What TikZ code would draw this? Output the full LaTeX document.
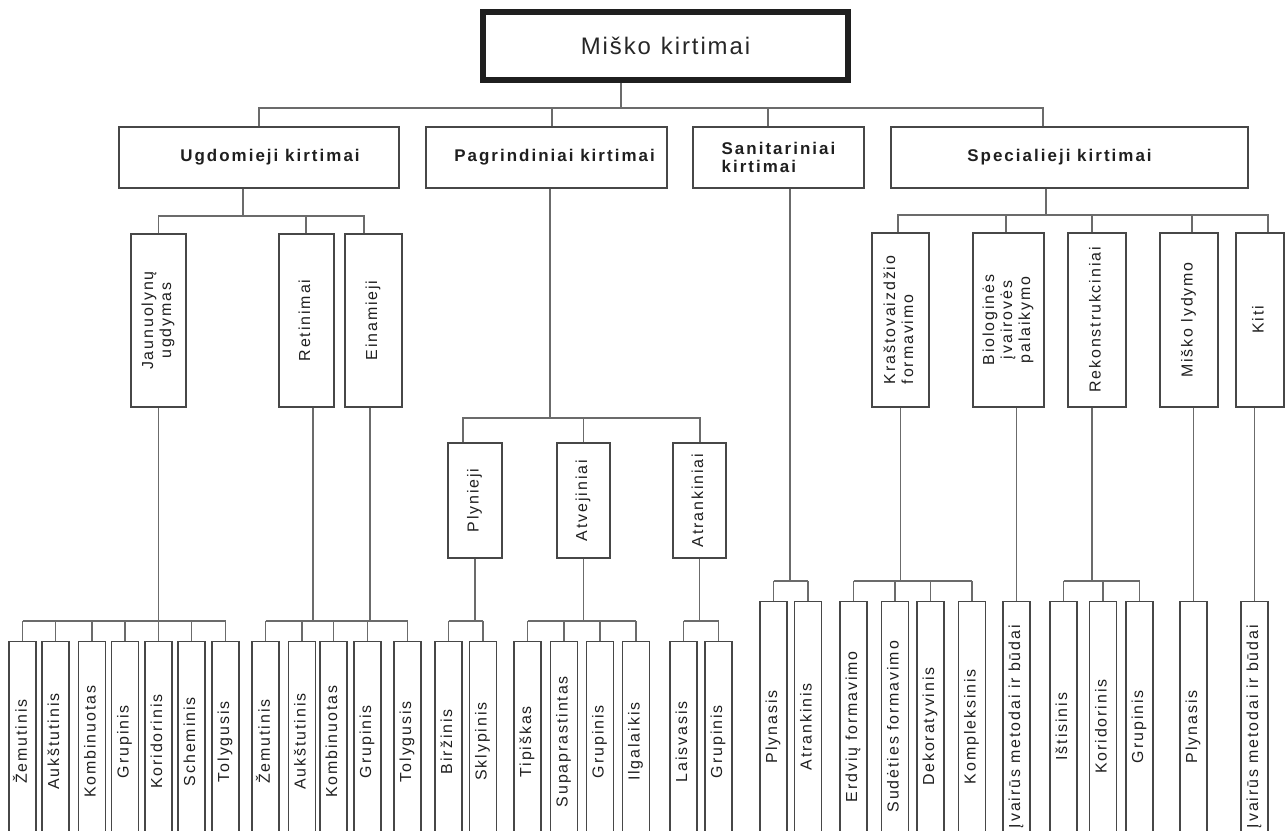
\documentclass[tikz,border=0pt]{standalone}
\usepackage{fontspec}
\usepackage{graphicx}
\setmainfont{Liberation Sans}
\newfontfamily\ttlfont{Liberation Sans}[LetterSpace=8]
\newfontfamily\hdfont{Liberation Sans}[LetterSpace=12]
\newfontfamily\bxfont{Liberation Sans}[LetterSpace=12]
\newcommand\vtx[2][c]{\rotatebox{90}{\begin{tabular}{@{}#1@{}}#2\end{tabular}}}
\begin{document}
\begin{tikzpicture}[x=1bp,y=-1bp,
  box/.style={draw=black!72, line width=1.3bp, fill=white, inner sep=0pt, text=black!88},
  hd/.style={box, minimum height=61bp, font=\hdfont\bfseries\fontsize{17}{18}\selectfont},
  vb/.style={box, font=\bxfont\fontsize{16}{18}\selectfont},
  lfA/.style={vb, anchor=north, minimum width=27bp, minimum height=200bp},
  lfB/.style={vb, anchor=north, minimum width=27bp, minimum height=250bp},
  conn/.style={draw=black!58, line width=1.3bp}]
\useasboundingbox (0,0) rectangle (1285,831);
\fill[white] (0,0) rectangle (1285,831);

% root
\node[draw=black!88, line width=5.5bp, minimum width=365bp, minimum height=68bp, inner sep=0pt,
  font=\ttlfont\fontsize{24}{26}\selectfont, text=black!85] (root) at (665.5,46) {Miško\hspace{10bp}kirtimai};

% level 2
\node[hd, minimum width=280bp] (ugd) at (259,157.5) {\hspace*{22bp}Ugdomieji kirtimai};
\node[hd, minimum width=241bp] (pag) at (546.5,157.5) {\hspace*{16bp}Pagrindiniai kirtimai};
\node[hd, minimum width=171bp, align=left] (san) at (778.5,157.5) {Sanitariniai\\kirtimai};
\node[hd, minimum width=357bp] (spe) at (1069.5,157.5) {Specialieji kirtimai\hspace*{20bp}};

% level 3 under Ugdomieji
\node[vb, minimum width=55bp, minimum height=173bp] (jau) at (158.5,320.5) {\vtx{Jaunuolynų\\ugdymas}};
\node[vb, minimum width=55bp, minimum height=173bp] (ret) at (306.5,320.5) {\vtx{Retinimai}};
\node[vb, minimum width=57bp, minimum height=173bp] (ein) at (373.5,320.5) {\vtx{Einamieji}};

% level 3 under Pagrindiniai
\node[vb, minimum width=54bp, minimum height=115bp] (ply) at (475,500.5) {\vtx{Plynieji}};
\node[vb, minimum width=53bp, minimum height=115bp] (atv) at (583.5,500.5) {\vtx{Atvejiniai}};
\node[vb, minimum width=53bp, minimum height=115bp] (atr) at (699.5,500.5) {\vtx{Atrankiniai}};

% level 3 under Specialieji
\node[vb, minimum width=57bp, minimum height=174bp] (kra) at (900.5,320) {\vtx[l]{Kraštovaizdžio\\formavimo}};
\node[vb, minimum width=71bp, minimum height=174bp] (bio) at (1008.5,320) {\vtx{Biologinės\\įvairovės\\palaikymo}};
\node[vb, minimum width=58bp, minimum height=174bp] (rek) at (1097,320) {\vtx{Rekonstrukciniai}};
\node[vb, minimum width=58bp, minimum height=174bp] (mil) at (1189,320) {\vtx{Miško lydymo}};
\node[vb, minimum width=48bp, minimum height=174bp] (kit) at (1260,320) {\vtx{Kiti}};

% leaves, row A
\node[lfA] (a1) at (22.5,641) {\vtx{Žemutinis}};
\node[lfA] (a2) at (55.5,641) {\vtx{Aukštutinis}};
\node[lfA] (a3) at (92,641) {\vtx{Kombinuotas}};
\node[lfA] (a4) at (125,641) {\vtx{Grupinis}};
\node[lfA] (a5) at (158.5,641) {\vtx{Koridorinis}};
\node[lfA] (a6) at (191.5,641) {\vtx{Scheminis}};
\node[lfA] (a7) at (225.5,641) {\vtx{Tolygusis}};
\node[lfA] (b1) at (265.5,641) {\vtx{Žemutinis}};
\node[lfA] (b2) at (302,641) {\vtx{Aukštutinis}};
\node[lfA] (b3) at (333.5,641) {\vtx{Kombinuotas}};
\node[lfA] (b4) at (367.5,641) {\vtx{Grupinis}};
\node[lfA] (b5) at (407.5,641) {\vtx{Tolygusis}};
\node[lfA] (c1) at (448.5,641) {\vtx{Biržinis}};
\node[lfA] (c2) at (483,641) {\vtx{Sklypinis}};
\node[lfA] (d1) at (527.5,641) {\vtx{Tipiškas}};
\node[lfA] (d2) at (564,641) {\vtx{Supaprastintas}};
\node[lfA] (d3) at (600,641) {\vtx{Grupinis}};
\node[lfA] (d4) at (636,641) {\vtx{Ilgalaikis}};
\node[lfA] (e1) at (683.5,641) {\vtx{Laisvasis}};
\node[lfA] (e2) at (718.5,641) {\vtx{Grupinis}};

% leaves, row B
\node[lfB] (f1) at (773.5,601) {\vtx{Plynasis}};
\node[lfB] (f2) at (808,601) {\vtx{Atrankinis}};
\node[lfB] (g1) at (853.5,601) {\vtx{Erdvių formavimo}};
\node[lfB] (g2) at (895,601) {\vtx{Sudėties formavimo}};
\node[lfB] (g3) at (930.5,601) {\vtx{Dekoratyvinis}};
\node[lfB] (g4) at (972,601) {\vtx{Kompleksinis}};
\node[lfB] (h1) at (1016.5,601) {\vtx{Įvairūs metodai ir būdai}};
\node[lfB] (i1) at (1063.5,601) {\vtx{Ištisinis}};
\node[lfB] (i2) at (1103,601) {\vtx{Koridorinis}};
\node[lfB] (i3) at (1139.5,601) {\vtx{Grupinis}};
\node[lfB] (j1) at (1193.5,601) {\vtx{Plynasis}};
\node[lfB] (k1) at (1254.5,601) {\vtx{Įvairūs metodai ir būdai}};

% connectors: root to level 2
\coordinate (L1) at (621,108);
\coordinate (Spag) at (552,108);
\coordinate (Ssan) at (768,108);
\coordinate (Sspe) at (1043,108);
\draw[conn] (root.south -| L1) -- (L1);
\draw[conn] (ugd.north) -- (ugd.north |- L1) -- (Sspe) -- (spe.north -| Sspe);
\draw[conn] (Spag) -- (pag.north -| Spag);
\draw[conn] (Ssan) -- (san.north -| Ssan);

% Ugdomieji children
\coordinate (U0) at (243,216);
\coordinate (Uret) at (306,216);
\coordinate (Uein) at (364,216);
\draw[conn] (ugd.south -| U0) -- (U0);
\draw[conn] (jau.north) -- (jau.north |- U0) -- (Uein) -- (ein.north -| Uein);
\draw[conn] (Uret) -- (ret.north -| Uret);

% Pagrindiniai children
\coordinate (P0) at (550,418);
\coordinate (Pply) at (463,418);
\coordinate (Patr) at (700,418);
\draw[conn] (pag.south -| P0) -- (P0);
\draw[conn] (ply.north -| Pply) -- (Pply) -- (Patr) -- (atr.north -| Patr);
\draw[conn] (atv.north |- P0) -- (atv.north);

% Specialieji children
\coordinate (E0) at (1046,215);
\coordinate (Ekra) at (898,215);
\coordinate (Ebio) at (1006,215);
\coordinate (Erek) at (1092,215);
\coordinate (Emil) at (1192,215);
\coordinate (Ekit) at (1268,215);
\draw[conn] (spe.south -| E0) -- (E0);
\draw[conn] (kra.north -| Ekra) -- (Ekra) -- (Ekit) -- (kit.north -| Ekit);
\foreach \c/\n in {Ebio/bio,Erek/rek,Emil/mil} \draw[conn] (\c) -- (\n.north -| \c);

% leaves row A
\coordinate (BA) at (0,621);
\draw[conn] (jau.south) -- (jau.south |- BA);
\draw[conn] (a1.north |- BA) -- (a7.north |- BA);
\coordinate (Rl) at (313,621);
\coordinate (El) at (370,621);
\draw[conn] (ret.south -| Rl) -- (Rl);
\draw[conn] (ein.south -| El) -- (El);
\draw[conn] (b1.north |- BA) -- (b5.north |- BA);
\draw[conn] (ply.south) -- (ply.south |- BA);
\draw[conn] (c1.north |- BA) -- (c2.north |- BA);
\draw[conn] (atv.south) -- (atv.south |- BA);
\draw[conn] (d1.north |- BA) -- (d4.north |- BA);
\draw[conn] (atr.south) -- (atr.south |- BA);
\draw[conn] (e1.north |- BA) -- (e2.north |- BA);
\foreach \n in {a1,a2,a3,a4,a5,a6,a7,b1,b2,b3,b4,b5,c1,c2,d1,d2,d3,d4,e1,e2}
  \draw[conn] (\n.north |- BA) -- (\n.north);

% leaves row B
\coordinate (BB) at (0,581);
\coordinate (Sl) at (790,581);
\coordinate (Rk) at (1092,581);
\draw[conn] (san.south -| Sl) -- (Sl);
\draw[conn] (f1.north |- BB) -- (f2.north |- BB);
\draw[conn] (kra.south) -- (kra.south |- BB);
\draw[conn] (g1.north |- BB) -- (g4.north |- BB);
\draw[conn] (rek.south -| Rk) -- (Rk);
\draw[conn] (i1.north |- BB) -- (i3.north |- BB);
\foreach \n in {f1,f2,g1,g2,g3,g4,i1,i2,i3}
  \draw[conn] (\n.north |- BB) -- (\n.north);
\draw[conn] (bio.south -| h1.north) -- (h1.north);
\draw[conn] (mil.south -| j1.north) -- (j1.north);
\draw[conn] (kit.south -| k1.north) -- (k1.north);
\end{tikzpicture}
\end{document}
